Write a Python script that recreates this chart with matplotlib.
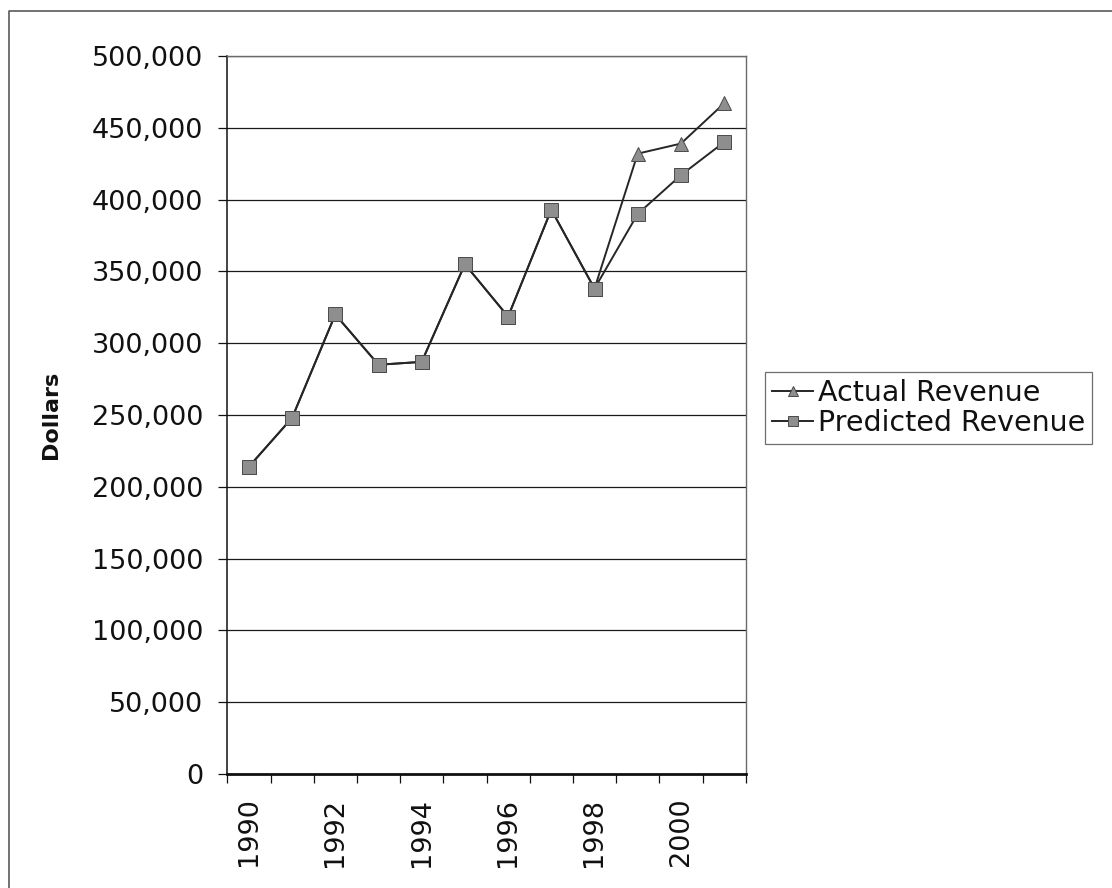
import matplotlib
matplotlib.use("Agg")
import matplotlib.pyplot as plt
from matplotlib.lines import Line2D
from matplotlib.ticker import FuncFormatter, FixedLocator

# Revenue by year
years = [1990, 1991, 1992, 1993, 1994, 1995, 1996, 1997, 1998, 1999, 2000, 2001]
actual_revenue = [214000, 248000, 320000, 285000, 287000, 355000,
                  318500, 393000, 338000, 432000, 439000, 467000]
predicted_revenue = [214000, 248000, 320000, 285000, 287000, 355000,
                     318500, 393000, 338000, 390000, 417000, 440000]
series_labels = ["Actual Revenue", "Predicted Revenue"]
year_labels = [1990, 1992, 1994, 1996, 1998, 2000]
y_ticks = list(range(0, 500001, 50000))

plt.rcParams["font.family"] = ["DejaVu Sans"]
W, H = 1112, 888
fig = plt.figure(figsize=(W / 100, H / 100), dpi=100)
fig.patch.set_facecolor("white")

ax = fig.add_axes([227.3 / W, 1 - 774 / H, (745.7 - 227.3) / W, (774 - 56) / H])

line_col = "#262626"
marker_face = "#8e8e8e"
marker_edge = "#4a4a4a"

ax.plot(years, actual_revenue, color=line_col, lw=1.4, marker="^",
        markersize=10, markerfacecolor=marker_face, markeredgecolor=marker_edge,
        markeredgewidth=0.7, label=series_labels[0], zorder=3)
ax.plot(years, predicted_revenue, color=line_col, lw=1.4, marker="s",
        markersize=10.4, markerfacecolor=marker_face, markeredgecolor=marker_edge,
        markeredgewidth=0.7, label=series_labels[1], zorder=4)

ax.set_xlim(years[0] - 0.5, years[-1] + 0.5)
ax.set_ylim(0, 500000)

# y axis: comma-separated dollar amounts with horizontal gridlines
ax.yaxis.set_major_locator(FixedLocator(y_ticks))
ax.yaxis.set_major_formatter(FuncFormatter(lambda v, p: f"{v:,.0f}"))
ax.grid(axis="y", color="#1a1a1a", lw=0.9, zorder=1)
ax.set_axisbelow(True)
ax.tick_params(axis="y", direction="out", length=6.5, width=0.9, pad=11,
               labelsize=19.5, colors="#111111")

# x axis: ticks between categories, labels on every other year
boundaries = [y - 0.5 for y in years] + [years[-1] + 0.5]
ax.xaxis.set_major_locator(FixedLocator(boundaries))
ax.xaxis.set_major_formatter(FuncFormatter(lambda v, p: ""))
ax.xaxis.set_minor_locator(FixedLocator(year_labels))
ax.xaxis.set_minor_formatter(FuncFormatter(lambda v, p: f"{int(round(v))}"))
ax.tick_params(axis="x", which="major", direction="out", length=6.5, width=0.9,
               color="#111111")
ax.tick_params(axis="x", which="minor", length=0, pad=17, labelsize=19.5,
               labelrotation=90, labelcolor="#111111")

ax.set_ylabel("Dollars", fontsize=16, fontweight="bold", labelpad=22,
              color="#111111")

for side in ("left", "bottom"):
    ax.spines[side].set_color("#111111")
ax.spines["left"].set_linewidth(1.1)
ax.spines["bottom"].set_linewidth(2.0)
for side in ("top", "right"):
    ax.spines[side].set_color("#6a6a6a")
    ax.spines[side].set_linewidth(1.0)

leg = ax.legend(loc="upper left", bbox_to_anchor=(765 / W, 1 - 372 / H),
                bbox_transform=fig.transFigure, borderaxespad=0,
                fontsize=20.5, frameon=True, fancybox=False, shadow=False,
                handlelength=1.45, handletextpad=0.15, borderpad=0.25,
                labelspacing=0.05, markerscale=0.75)
leg.get_frame().set_edgecolor("#4a4a4a")
leg.get_frame().set_linewidth(0.9)
for t in leg.get_texts():
    t.set_color("#111111")

# outer chart border (left and top edges)
fig.add_artist(Line2D([9 / W, 9 / W, 1.0], [0.0, 1 - 11 / H, 1 - 11 / H],
                      transform=fig.transFigure, color="#5a5a5a", lw=1.2))

fig.savefig("out.png", dpi=100, facecolor="white")
